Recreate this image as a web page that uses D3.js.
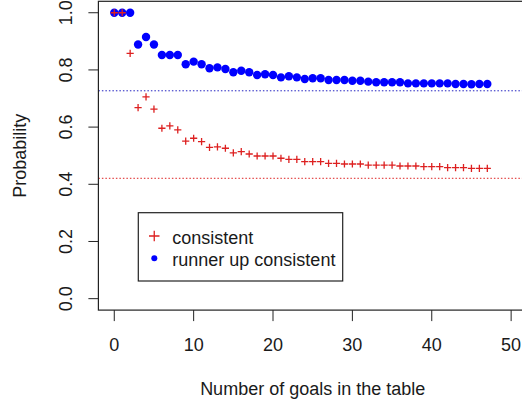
<!DOCTYPE html>
<html>
<head>
<meta charset="utf-8">
<script src="https://cdn.jsdelivr.net/npm/d3@7"></script>
<style>
  html, body { margin: 0; padding: 0; background: #fff; }
  svg { display: block; }
  text { font-family: "Liberation Sans", Arial, sans-serif; fill: #1a1a1a; }
</style>
</head>
<body>
<div id="chart"></div>
<script>
// goals in the table (x) and the two probability series
var goals = d3.range(0, 48);
var consistent = [
  1.0, 1.0, 0.858, 0.668, 0.706, 0.663, 0.596, 0.604, 0.590, 0.551,
  0.561, 0.549, 0.529, 0.531, 0.526, 0.510, 0.514, 0.506, 0.499, 0.499,
  0.499, 0.491, 0.487, 0.487, 0.479, 0.479, 0.479, 0.473, 0.473, 0.471,
  0.471, 0.471, 0.467, 0.467, 0.467, 0.467, 0.464, 0.464, 0.464, 0.462,
  0.462, 0.462, 0.458, 0.458, 0.458, 0.456, 0.456, 0.456
];
var runnerUp = [
  1.0, 1.0, 1.0, 0.889, 0.915, 0.889, 0.852, 0.852, 0.852, 0.820,
  0.829, 0.820, 0.806, 0.809, 0.803, 0.792, 0.797, 0.792, 0.782, 0.785,
  0.782, 0.774, 0.778, 0.774, 0.768, 0.771, 0.771, 0.765, 0.765, 0.765,
  0.762, 0.762, 0.759, 0.757, 0.757, 0.757, 0.757, 0.753, 0.753, 0.753,
  0.753, 0.753, 0.753, 0.751, 0.751, 0.750, 0.751, 0.751
];
var refLines = [0.727, 0.421];       // runner up, consistent
var xTicks = [0, 10, 20, 30, 40, 50];
var yTicks = [0, 0.2, 0.4, 0.6, 0.8, 1.0];
var legendLabels = ["consistent", "runner up consistent"];

var width = 522, height = 406;
var pL = 98.4, pR = 527, pT = 1.3, pB = 310.1;
var red = "#dd2020", blue = "#0000ff", ink = "#222";
var fs = 18;

var x = d3.scaleLinear().domain([-2, 52]).range([pL, pR]);
var y = d3.scaleLinear().domain([-0.04, 1.04]).range([pB, pT]);

var svg = d3.select("#chart").append("svg")
  .attr("width", width)
  .attr("height", height);

// reference lines (dotted)
svg.selectAll(".ref")
  .data(refLines)
  .enter().append("line")
  .attr("x1", pL).attr("x2", pR)
  .attr("y1", d => y(d)).attr("y2", d => y(d))
  .attr("stroke", (d, i) => i == 0 ? "#2020c0" : red)
  .attr("stroke-width", 1)
  .attr("stroke-dasharray", "1.5,2");

// runner up (filled circles)
svg.selectAll(".ru")
  .data(goals)
  .enter().append("circle")
  .attr("cx", d => x(d))
  .attr("cy", (d, i) => y(runnerUp[i]))
  .attr("r", 4.2)
  .attr("fill", blue);

// consistent (crosses)
var cs = 3.6;
svg.selectAll(".cs")
  .data(goals)
  .enter().append("path")
  .attr("d", (d, i) => {
    var cx = x(d), cy = y(consistent[i]);
    return "M" + (cx - cs) + "," + cy + "H" + (cx + cs) + "M" + cx + "," + (cy - cs) + "V" + (cy + cs);
  })
  .attr("stroke", red)
  .attr("stroke-width", 1.3)
  .attr("fill", "none");

// plot box
svg.append("rect")
  .attr("x", pL).attr("y", pT)
  .attr("width", pR - pL).attr("height", pB - pT)
  .attr("fill", "none")
  .attr("stroke", ink)
  .attr("stroke-width", 1.2);

// x axis ticks + labels
var xa = svg.append("g");
xa.selectAll("line").data(xTicks).enter().append("line")
  .attr("x1", d => x(d)).attr("x2", d => x(d))
  .attr("y1", pB).attr("y2", pB + 11)
  .attr("stroke", ink);
xa.selectAll("text").data(xTicks).enter().append("text")
  .attr("x", d => x(d)).attr("y", 351)
  .attr("text-anchor", "middle")
  .attr("font-size", fs)
  .text(d => d);

// y axis ticks + rotated labels
var ya = svg.append("g");
ya.selectAll("line").data(yTicks).enter().append("line")
  .attr("x1", pL - 10).attr("x2", pL)
  .attr("y1", d => y(d)).attr("y2", d => y(d))
  .attr("stroke", ink);
ya.selectAll("text").data(yTicks).enter().append("text")
  .attr("transform", d => "translate(72," + y(d) + ") rotate(-90)")
  .attr("text-anchor", "middle")
  .attr("font-size", fs)
  .text(d => d3.format(".1f")(d));

// axis titles
svg.append("text")
  .attr("x", (pL + pR) / 2).attr("y", 395)
  .attr("text-anchor", "middle")
  .attr("font-size", fs)
  .text("Number of goals in the table");
svg.append("text")
  .attr("transform", "translate(26," + (pT + pB) / 2 + ") rotate(-90)")
  .attr("text-anchor", "middle")
  .attr("font-size", fs)
  .text("Probability");

// legend
var lg = svg.append("g");
lg.append("rect")
  .attr("x", 138.3).attr("y", 212.7)
  .attr("width", 204.4).attr("height", 68.3)
  .attr("fill", "#fff")
  .attr("stroke", ink)
  .attr("stroke-width", 1.2);
lg.append("path")
  .attr("d", "M149,236H159.5M154.25,230.75V241.25")
  .attr("stroke", red)
  .attr("stroke-width", 1.3);
lg.append("circle")
  .attr("cx", 154.3).attr("cy", 258.3).attr("r", 3)
  .attr("fill", blue);
lg.selectAll("text").data(legendLabels).enter().append("text")
  .attr("x", 172.3)
  .attr("y", (d, i) => 243.5 + i * 22.5)
  .attr("font-size", fs)
  .text(d => d);
</script>
</body>
</html>
